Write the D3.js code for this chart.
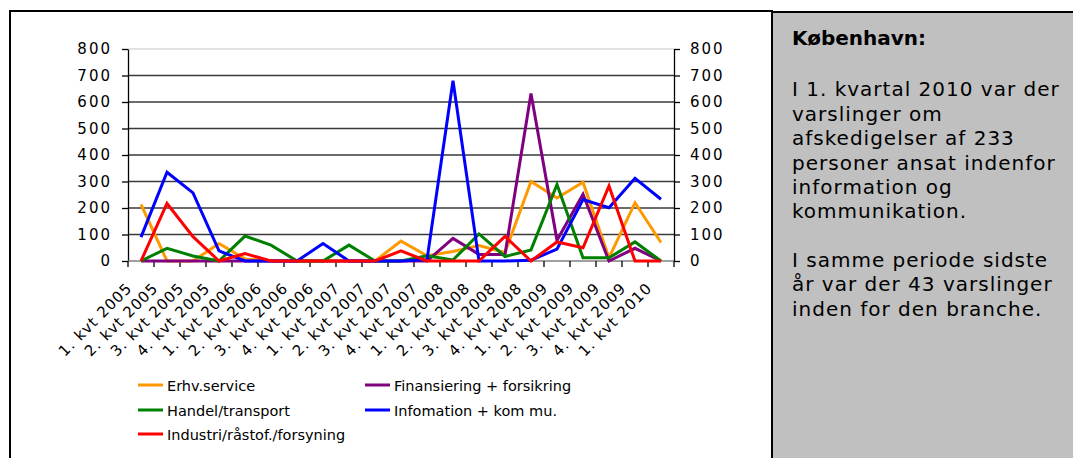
<!DOCTYPE html>
<html>
<head>
<meta charset="utf-8">
<script src="https://cdn.jsdelivr.net/npm/d3@7"></script>
<style>
  body { margin: 0; background: #fff; }
  #container { position: relative; width: 1073px; height: 458px; overflow: hidden; }
  #note {
    position: absolute; left: 771px; top: 11px; width: 310px; height: 460px;
    background: #c0c0c0; border: 2px solid #000; box-sizing: border-box;
    font-family: "DejaVu Sans", Verdana, sans-serif; font-size: 20px; color: #000;
    padding: 13px 12px 0 19px; line-height: 24.4px; letter-spacing: 1px;
  }
  #note b { display: block; letter-spacing: 0; margin-bottom: 27px; }
  #note p { margin: 0 0 24px 0; }
</style>
</head>
<body>
<div id="container"></div>
<script>
const categories = [
  "1. kvt 2005", "2. kvt 2005", "3. kvt 2005", "4. kvt 2005",
  "1. kvt 2006", "2. kvt 2006", "3. kvt 2006", "4. kvt 2006",
  "1. kvt 2007", "2. kvt 2007", "3. kvt 2007", "4. kvt 2007",
  "1. kvt 2008", "2. kvt 2008", "3. kvt 2008", "4. kvt 2008",
  "1. kvt 2009", "2. kvt 2009", "3. kvt 2009", "4. kvt 2009",
  "1. kvt 2010"
];

const erhvService   = [214, 0, 0, 66, 8, 0, 0, 0, 0, 0, 75, 20, 36, 58, 32, 300, 238, 297, 12, 220, 70];
const finansiering  = [0, 0, 0, 0, 0, 0, 0, 0, 0, 0, 0, 0, 85, 25, 25, 632, 78, 252, 0, 48, 0];
const handel        = [0, 48, 19, 0, 94, 60, 0, 0, 60, 0, 0, 20, 4, 102, 17, 42, 289, 12, 12, 72, 0];
const information   = [90, 335, 257, 38, 0, 0, 0, 66, 0, 0, 0, 5, 680, 0, 0, 3, 45, 232, 201, 312, 233];
const industri      = [0, 217, 92, 0, 28, 0, 0, 0, 0, 0, 38, 0, 0, 0, 93, 0, 72, 50, 283, 0, 0];

const seriesNames  = ["Erhv.service", "Finansiering + forsikring", "Handel/transport", "Infomation + kom mu.", "Industri/råstof./forsyning"];
const seriesColors = ["#FF9900", "#800080", "#008000", "#0000FF", "#FF0000"];
const yTicks = [0, 100, 200, 300, 400, 500, 600, 700, 800];

const series = [erhvService, finansiering, handel, information, industri]
  .map((values, i) => ({ name: seriesNames[i], color: seriesColors[i], values }));

const width = 1073;
const height = 458;
const plot = { left: 128, right: 674, top: 49, bottom: 261 };
const font = '"DejaVu Sans", Verdana, sans-serif';

const container = d3.select("#container");

const svg = container.append("svg")
  .attr("width", width)
  .attr("height", height)
  .style("position", "absolute")
  .style("left", 0)
  .style("top", 0);

// chart frame
svg.append("rect")
  .attr("x", 10).attr("y", 11)
  .attr("width", 762).attr("height", 470)
  .attr("fill", "#fff")
  .attr("stroke", "#000")
  .attr("stroke-width", 2);

const x = d3.scaleBand()
  .domain(categories)
  .range([plot.left, plot.right])
  .padding(0);

const y = d3.scaleLinear()
  .domain([0, 800])
  .range([plot.bottom, plot.top]);

const cx = d => x(d) + x.bandwidth() / 2;

// gridlines
svg.append("g")
  .selectAll("line")
  .data(yTicks.filter(t => t > 0))
  .join("line")
  .attr("x1", plot.left).attr("x2", plot.right)
  .attr("y1", d => y(d)).attr("y2", d => y(d))
  .attr("stroke", d => d === 800 ? "#e2e2e2" : "#3a3a3a")
  .attr("stroke-width", d => d === 800 ? 2 : 1.3);

// left axis
const yAxisLeft = svg.append("g")
  .attr("transform", `translate(${plot.left},0)`)
  .call(d3.axisLeft(y).tickValues(yTicks).tickSize(6).tickPadding(10).tickSizeOuter(0));
// right axis
const yAxisRight = svg.append("g")
  .attr("transform", `translate(${plot.right},0)`)
  .call(d3.axisRight(y).tickValues(yTicks).tickSize(6).tickPadding(10).tickSizeOuter(0));

[yAxisLeft, yAxisRight].forEach(g => {
  g.select(".domain").attr("stroke", "#000").attr("stroke-width", 1.3);
  g.selectAll(".tick line").attr("stroke", "#000").attr("stroke-width", 1.3);
  g.selectAll(".tick text")
    .attr("fill", "#000")
    .style("font-family", font)
    .style("font-size", "15px")
    .style("letter-spacing", "2px");
});

// x axis line and ticks between categories
const xAxis = svg.append("g")
  .attr("transform", `translate(0,${plot.bottom})`);
xAxis.append("line")
  .attr("x1", plot.left).attr("x2", plot.right)
  .attr("stroke", "#808080").attr("stroke-width", 1.5);
xAxis.selectAll("line.tk")
  .data(categories.concat([null]))
  .join("line")
  .attr("class", "tk")
  .attr("x1", (d, i) => plot.left + i * x.bandwidth())
  .attr("x2", (d, i) => plot.left + i * x.bandwidth())
  .attr("y1", 0).attr("y2", 6)
  .attr("stroke", "#000").attr("stroke-width", 1.3);

xAxis.selectAll("text")
  .data(categories)
  .join("text")
  .attr("transform", d => `translate(${cx(d) - 8},${28}) rotate(-45)`)
  .attr("text-anchor", "end")
  .style("font-family", font)
  .style("font-size", "15px")
  .style("letter-spacing", "1px")
  .attr("fill", "#000")
  .text(d => d);

// lines
const line = d3.line()
  .x((v, i) => cx(categories[i]))
  .y(v => y(v));

svg.append("g")
  .selectAll("path")
  .data(series)
  .join("path")
  .attr("fill", "none")
  .attr("stroke", d => d.color)
  .attr("stroke-width", 3)
  .attr("stroke-linejoin", "miter")
  .attr("d", d => line(d.values));

// legend
const legendPos = [
  { x: 138, y: 385 }, { x: 365, y: 385 },
  { x: 138, y: 410 }, { x: 365, y: 410 },
  { x: 138, y: 434 }
];
const legend = svg.append("g")
  .selectAll("g")
  .data(series)
  .join("g")
  .attr("transform", (d, i) => `translate(${legendPos[i].x},${legendPos[i].y})`);
legend.append("line")
  .attr("x1", 0).attr("x2", 25)
  .attr("stroke", d => d.color)
  .attr("stroke-width", 3);
legend.append("text")
  .attr("x", 29).attr("y", 6)
  .style("font-family", font)
  .style("font-size", "14.5px")
  .attr("fill", "#000")
  .text(d => d.name);

// side note
container.append("div")
  .attr("id", "note")
  .html("<b>København:</b><p>I 1. kvartal 2010 var der varslinger om afskedigelser af 233 personer ansat indenfor information og kommunikation.</p><p>I samme periode sidste år var der 43 varslinger inden for den branche.</p>");
</script>
</body>
</html>
